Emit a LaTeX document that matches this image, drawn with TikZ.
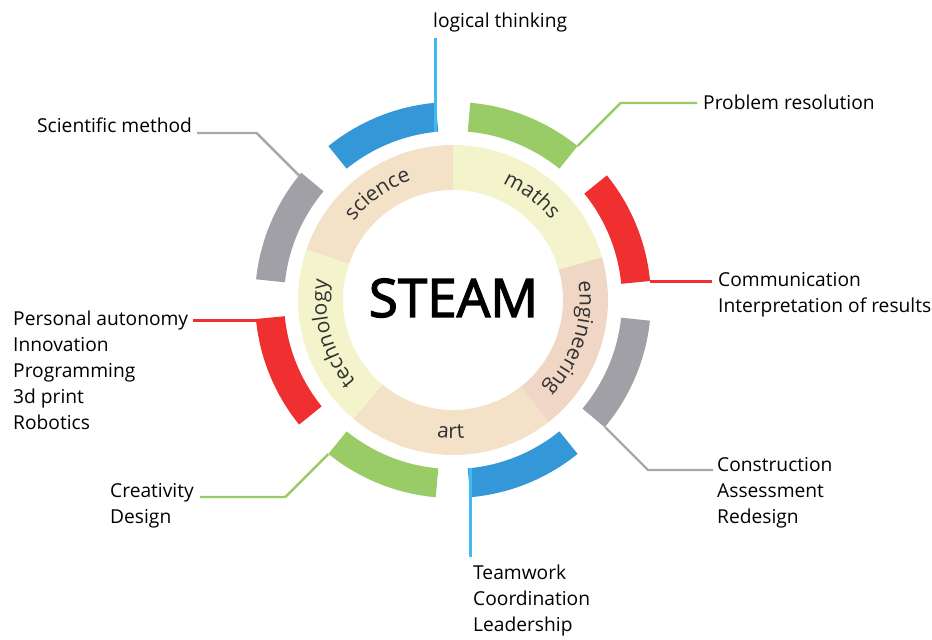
\documentclass[tikz,border=0pt]{standalone}
\usepackage{fontspec}
\setmainfont{Open Sans}
\newfontfamily\steamfont[FakeBold=2.5]{Open Sans}
\usetikzlibrary{decorations.text}
\definecolor{ringTan}{RGB}{244,226,200}
\definecolor{ringYellow}{RGB}{244,244,204}
\definecolor{ringPeach}{RGB}{240,214,196}
\definecolor{arcBlue}{RGB}{52,152,216}
\definecolor{arcGreen}{RGB}{153,204,102}
\definecolor{arcRed}{RGB}{240,48,48}
\definecolor{arcGray}{RGB}{160,160,166}
\definecolor{lineBlue}{RGB}{64,186,240}
\definecolor{lineGray}{RGB}{168,168,168}
\definecolor{textGray}{RGB}{50,50,50}
\newcommand\ringfont{\fontsize{21}{24}\selectfont}
\newcommand\ringseg[3]{\fill[#1] (#2:110) arc[start angle=#2,end angle=#3,radius=110] -- (#3:155) arc[start angle=#3,end angle=#2,radius=155] -- cycle;}
\newcommand\outerarc[3]{\fill[#1] (#2:169) arc[start angle=#2,end angle=#3,radius=169] -- (#3:198) arc[start angle=#3,end angle=#2,radius=198] -- cycle;}
\tikzset{
  lbl/.style={anchor=base west, inner sep=0pt, align=left, font=\fontsize{19.2}{26}\selectfont},
  leader/.style={line width=2.4pt},
  ringtext/.style={decorate, decoration={text along path, text align=center, text color=textGray, text={|\ringfont|#1}}}
}
\begin{document}
\begin{tikzpicture}[x=1pt,y=1pt]
\useasboundingbox (0,0) rectangle (932,640);
\coordinate (C) at (453,340);
\begin{scope}[shift={(453,340)}]
  % inner ring
  \ringseg{ringTan}{90}{161}
  \ringseg{ringYellow}{16}{90}
  \ringseg{ringPeach}{-52}{16}
  \ringseg{ringTan}{-130}{-52}
  \ringseg{ringYellow}{161}{230}
  \path[ringtext=science] (161:126.5) arc[start angle=161,end angle=90,radius=126.5];
  \path[ringtext=maths] (90:126.5) arc[start angle=90,end angle=16,radius=126.5];
  \path[ringtext=engineering] (16:126.5) arc[start angle=16,end angle=-52,radius=126.5];
  \path[ringtext=technology] (230:126.5) arc[start angle=230,end angle=161,radius=126.5];
  \path[ringtext=art] (230:138.5) arc[start angle=230,end angle=308,radius=138.5];
  % outer arcs
  \outerarc{arcBlue}{95}{129}
  \outerarc{arcGreen}{51}{85}
  \outerarc{arcRed}{5.5}{39}
  \outerarc{arcGray}{-40}{-6}
  \outerarc{arcBlue}{-85}{-51}
  \outerarc{arcGreen}{-129}{-95}
  \outerarc{arcRed}{185.5}{219}
  \outerarc{arcGray}{140}{174}
\end{scope}
\node[inner sep=0pt, font=\steamfont\fontsize{53}{60}\selectfont] (steam) at (453.5,342) {STEAM};
% labels (base anchor = baseline of the last line)
\node[lbl] (lt) at (433,612) {logical thinking};
\node[lbl] (pr) at (703,530) {Problem resolution};
\node[lbl] (cm) at (718,327.5) {Communication\\Interpretation of results};
\node[lbl] (cs) at (717,116) {Construction\\Assessment\\Redesign};
\node[lbl] (tw) at (473,8) {Teamwork\\Coordination\\Leadership};
\node[lbl] (cr) at (110,116) {Creativity\\Design};
\node[lbl] (pa) at (13,210) {Personal autonomy\\Innovation\\Programming\\3d print\\Robotics};
\node[lbl] (sm) at (37,507) {Scientific method};
% leader coordinates
\coordinate (ltA) at (435.5,508); \coordinate (ltB) at (435.5,602);
\coordinate (prA) at (577.6,494); \coordinate (prB) at (620.6,537); \coordinate (prC) at (697,537);
\coordinate (cmA) at (650,358.5); \coordinate (cmB) at (712,358.5);
\coordinate (csA) at (605,213); \coordinate (csB) at (648,170); \coordinate (csC) at (713,170);
\coordinate (twA) at (470.5,172); \coordinate (twB) at (470.5,83);
\coordinate (crA) at (328.4,186); \coordinate (crB) at (285.4,143); \coordinate (crC) at (200,143);
\coordinate (paA) at (256,319.3); \coordinate (paB) at (193,319.3);
\coordinate (smA) at (299,464.6); \coordinate (smB) at (256.6,507); \coordinate (smC) at (197,507);
\draw[leader, lineBlue] (ltA) -- (ltB);
\draw[leader, arcGreen] (prA) -- (prB) -- (prC);
\draw[leader, arcRed] (cmA) -- (cmB);
\draw[leader, lineGray] (csA) -- (csB) -- (csC);
\draw[leader, lineBlue] (twA) -- (twB);
\draw[leader, arcGreen] (crA) -- (crB) -- (crC);
\draw[leader, arcRed] (paA) -- (paB);
\draw[leader, lineGray] (smA) -- (smB) -- (smC);
\end{tikzpicture}
\end{document}
